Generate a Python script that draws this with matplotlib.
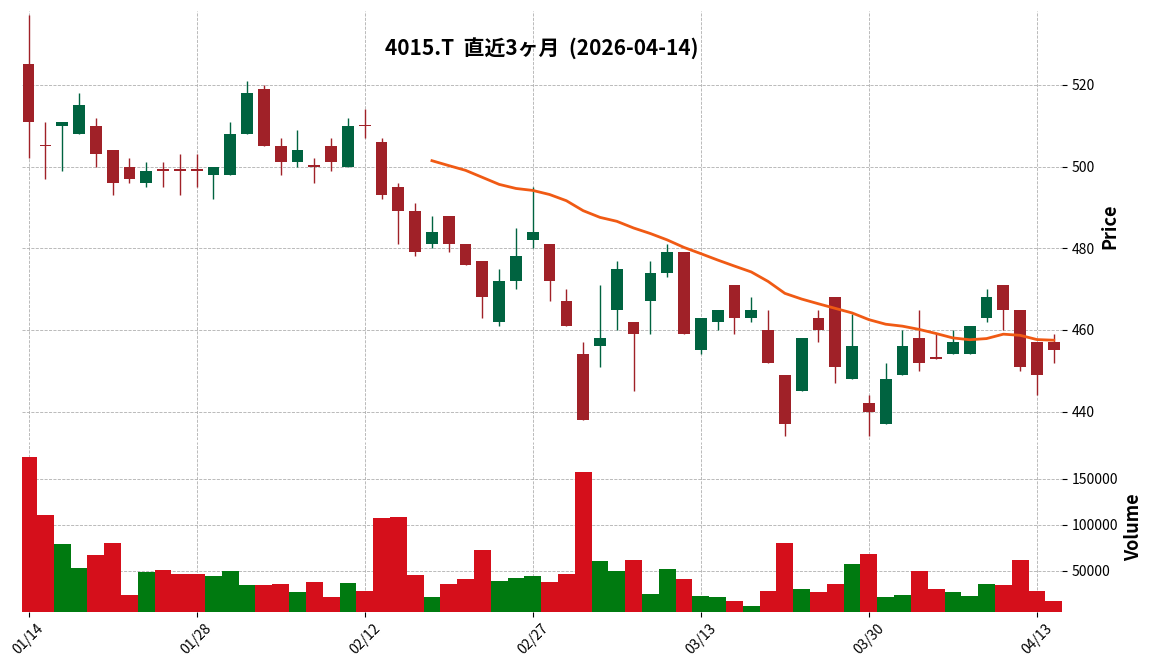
import numpy as np
import pandas as pd
import matplotlib
matplotlib.use("Agg")
import matplotlib.pyplot as plt

plt.rcParams['font.family'] = ['Noto Sans CJK JP', 'DejaVu Sans']

# OHLC
opens = [525, 505, 510, 508, 510, 504, 500, 496, 499, 499, 499, 498, 498, 508, 519, 505, 501, 500, 505, 500,
         510, 506, 495, 489, 481, 488, 481, 477, 462, 472, 482, 481, 467, 454, 456, 465, 462, 467, 474, 479,
         455, 462, 471, 463, 460, 449, 445, 463, 468, 448, 442, 437, 449, 458, 453, 454, 454, 463, 471, 465,
         457, 457]
highs = [537, 511, 511, 518, 512, 504, 502, 501, 501, 503, 503, 500, 511, 521, 520, 507, 509, 502, 507, 512,
         514, 507, 496, 491, 488, 488, 481, 477, 475, 485, 495, 481, 470, 457, 471, 477, 462, 477, 481, 479,
         463, 465, 471, 468, 465, 449, 458, 465, 468, 464, 444, 452, 460, 465, 459, 460, 461, 470, 471, 465,
         457, 459]
lows = [502, 497, 499, 508, 500, 493, 496, 495, 495, 493, 495, 492, 498, 508, 505, 498, 500, 496, 499, 500,
        507, 492, 481, 478, 480, 479, 476, 463, 461, 470, 480, 467, 461, 438, 451, 460, 445, 459, 473, 459,
        454, 460, 459, 462, 452, 434, 445, 457, 447, 448, 434, 437, 449, 450, 453, 454, 454, 462, 460, 450,
        444, 452]
closes = [511, 505, 511, 515, 503, 496, 497, 499, 499, 499, 499, 500, 508, 518, 505, 501, 504, 500, 501, 510,
          510, 493, 489, 479, 484, 481, 476, 468, 472, 478, 484, 472, 461, 438, 458, 475, 459, 474, 479, 459,
          463, 465, 463, 465, 452, 437, 458, 460, 451, 456, 440, 448, 456, 452, 453, 457, 461, 468, 465, 451,
          449, 455]
volumes = [174000, 111000, 79000, 53000, 67000, 80000, 24000, 49000, 51000, 46000, 47000, 44000, 50000, 34000,
           35000, 36000, 27000, 38000, 21000, 37000, 28000, 107000, 109000, 45000, 21000, 36000, 41000, 73000,
           39000, 42000, 44000, 38000, 46000, 158000, 61000, 50000, 62000, 25000, 52000, 41000, 23000, 21000,
           17000, 12000, 28000, 80000, 30000, 27000, 36000, 57000, 68000, 21000, 24000, 50000, 30000, 27000,
           23000, 36000, 34000, 62000, 28000, 17000]
tick_pos = [0, 10, 20, 30, 40, 50, 60]
tick_labels = ["01/14", "01/28", "02/12", "02/27", "03/13", "03/30", "04/13"]

o = np.array(opens); h = np.array(highs); l = np.array(lows); c = np.array(closes)
x = np.arange(len(o))
up = c > o
ma = pd.Series(c).rolling(25).mean()

fig = plt.figure(figsize=(11.52, 6.7), dpi=100)
ax = fig.add_axes([0.019, 0.343, 0.903, 0.64])
axv = fig.add_axes([0.019, 0.087, 0.903, 0.253], sharex=ax)

cu, cd = "#006340", "#a02128"
for a in (ax, axv):
    for s in a.spines.values():
        s.set_visible(False)
    a.grid(True, color="#b0b0b0", linestyle="--", linewidth=0.6)
    a.set_axisbelow(True)
    a.yaxis.tick_right()
    a.yaxis.set_label_position("right")

cols = np.where(up, cu, cd)
ax.vlines(x, l, h, colors=cols, linewidth=1)
body = np.maximum(np.abs(c - o), 0.3)
ax.bar(x, body, bottom=np.minimum(o, c), width=0.7, color=cols, linewidth=0)
ax.plot(x, ma, color="#f05a14", linewidth=2)
ax.set_ylim(433, 538)
ax.set_yticks([440, 460, 480, 500, 520])
ax.set_ylabel("Price", fontsize=13, fontweight="bold")
ax.tick_params(axis="x", labelbottom=False, length=0)
ax.set_title("4015.T  直近3ヶ月  (2026-04-14)", fontsize=15, fontweight="bold", y=0.88)

vcols = np.where(up, "#007a10", "#d50f1b")
axv.bar(x, volumes, width=1.0, color=vcols, linewidth=0)
axv.set_ylim(5400, 190000)
axv.set_yticks([50000, 100000, 150000])
axv.set_yticklabels(["50000", "100000", "150000"])
axv.set_ylabel("Volume", fontsize=13, fontweight="bold")
axv.set_xlim(-0.4, 61.5)
axv.set_xticks(tick_pos)
axv.set_xticklabels(tick_labels, rotation=45, fontsize=10)

fig.savefig("out.png")
